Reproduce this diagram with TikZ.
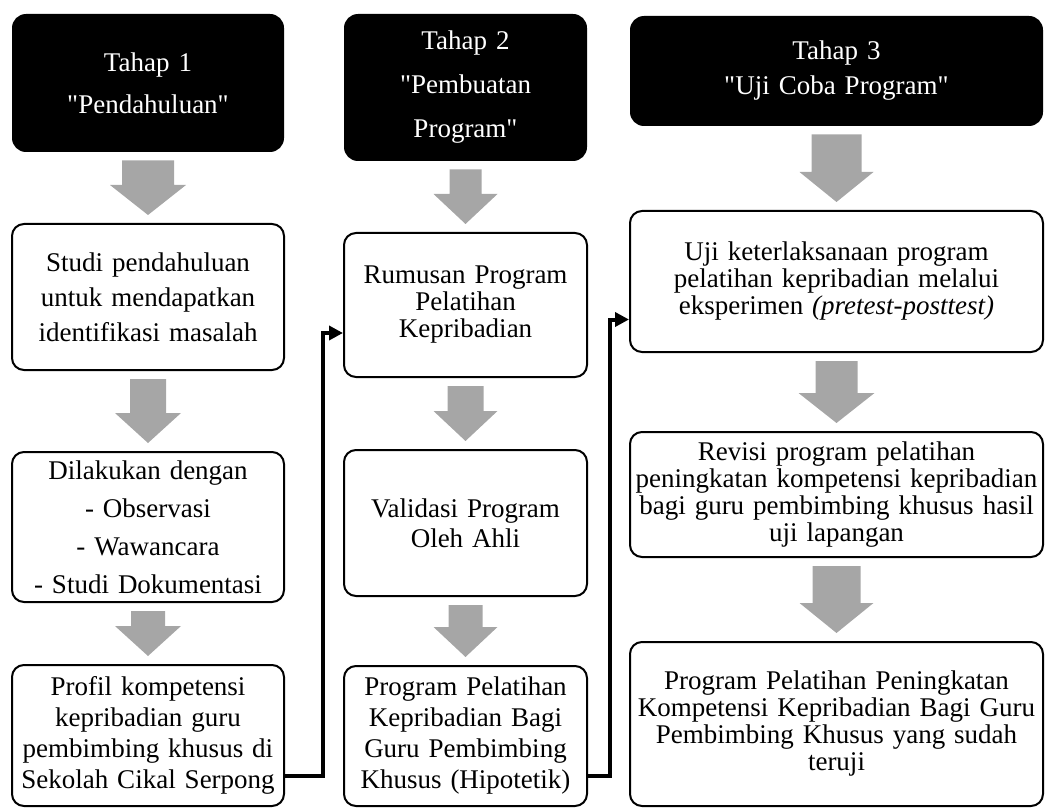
\documentclass[tikz,border=0pt]{standalone}
\usepackage{fontspec}
\setmainfont{Liberation Serif}
\usetikzlibrary{arrows.meta,calc}
\definecolor{flow}{HTML}{A6A6A6}
\newcommand{\q}{\textquotedbl}

\begin{document}
\begin{tikzpicture}[x=0.5pt,y=-0.5pt,
    every node/.style={font=\fontsize{13.5}{13.5}\selectfont, align=center, inner sep=2pt},
    stage/.style={fill=black, text=white, rounded corners=7pt},
    stepbox/.style={draw, line width=1pt, rounded corners=6pt, fill=white},
    colA/.style={minimum width=136pt, text width=132pt},
    colB/.style={minimum width=121.5pt, text width=117pt},
    colC/.style={minimum width=206.5pt, text width=202pt},
    link/.style={line width=2pt, -{Triangle[length=7pt,width=7pt]}}]
  \useasboundingbox (0,0) rectangle (1051,808);
  % Tahap 1
  \node[stage, colA, minimum height=69pt, font=\fontsize{13.5}{21}\selectfont] (tahap1) at (148,83)
    {Tahap 1\\\q Pendahuluan\q};
  \node[stepbox, colA, minimum height=73pt, font=\fontsize{13.5}{17.5}\selectfont] (studi) at (148,297)
    {Studi pendahuluan\\untuk mendapatkan\\identifikasi masalah};
  \node[stepbox, colA, minimum height=75pt, font=\fontsize{13.5}{19}\selectfont] (metode) at (148,527)
    {Dilakukan dengan\\- Observasi\\- Wawancara\\- Studi Dokumentasi};
  \node[stepbox, colA, minimum height=70.5pt, font=\fontsize{13.5}{15.5}\selectfont] (profil) at (148,735.5)
    {Profil kompetensi\\kepribadian guru\\pembimbing khusus di\\Sekolah Cikal Serpong};
  % Tahap 2
  \node[stage, colB, minimum height=73.5pt, font=\fontsize{13.5}{22}\selectfont] (tahap2) at (465.5,87.5)
    {Tahap 2\\\q Pembuatan\\Program\q};
  \node[stepbox, colB, minimum height=72pt] (rumusan) at (465.5,305)
    {Rumusan Program\\Pelatihan\\Kepribadian};
  \node[stepbox, colB, minimum height=73pt, font=\fontsize{13.5}{15}\selectfont] (validasi) at (465.5,523)
    {Validasi Program\\Oleh Ahli};
  \node[stepbox, colB, minimum height=70pt, font=\fontsize{13.5}{15.5}\selectfont] (hipotetik) at (465.5,736)
    {Program Pelatihan\\Kepribadian Bagi\\Guru Pembimbing\\Khusus (Hipotetik)};
  % Tahap 3
  \node[stage, colC, minimum height=55pt, font=\fontsize{13.5}{17.5}\selectfont] (tahap3) at (836.5,71)
    {Tahap 3\\\q Uji Coba Program\q};
  \node[stepbox, colC, minimum height=70.5pt] (ujicoba) at (836.5,281.5)
    {Uji keterlaksanaan program\\pelatihan kepribadian melalui\\eksperimen \textit{(pretest-posttest)}};
  \node[stepbox, colC, minimum height=62.5pt] (revisi) at (836.5,494.5)
    {Revisi program pelatihan\\peningkatan kompetensi kepribadian\\bagi guru pembimbing khusus hasil\\uji lapangan};
  \node[stepbox, colC, minimum height=82pt] (teruji) at (836.5,724)
    {Program Pelatihan Peningkatan\\Kompetensi Kepribadian Bagi Guru\\Pembimbing Khusus yang sudah\\teruji};
  % gray block arrows
  \foreach \a/\b/\s/\h in {tahap1/studi/13/19, studi/metode/9/16.5, metode/profil/8.5/16.5,
      tahap2/rumusan/8/16, rumusan/validasi/9/16, validasi/hipotetik/8.5/16,
      tahap3/ujicoba/12.5/18.5, ujicoba/revisi/10.5/19, revisi/teruji/12/18.5} {
    \fill[flow] let \p1=(\a.south), \p2=(\b.north) in
      (\x1-\s*1pt,\y1-4pt) -- (\x1+\s*1pt,\y1-4pt) -- (\x1+\s*1pt,\y2+19pt)
      -- (\x1+\h*1pt,\y2+19pt) -- (\x1,\y2+4pt) -- (\x1-\h*1pt,\y2+19pt)
      -- (\x1-\s*1pt,\y2+19pt) -- cycle;
  }
  % links between stages
  \draw[link] ([yshift=-20pt]profil.east) -- ++(19pt,0) |- ([yshift=-14pt]rumusan.west);
  \draw[link] ([yshift=-20pt]hipotetik.east) -- ++(11pt,0) |- ([yshift=-19pt]ujicoba.west);
\end{tikzpicture}
\end{document}
